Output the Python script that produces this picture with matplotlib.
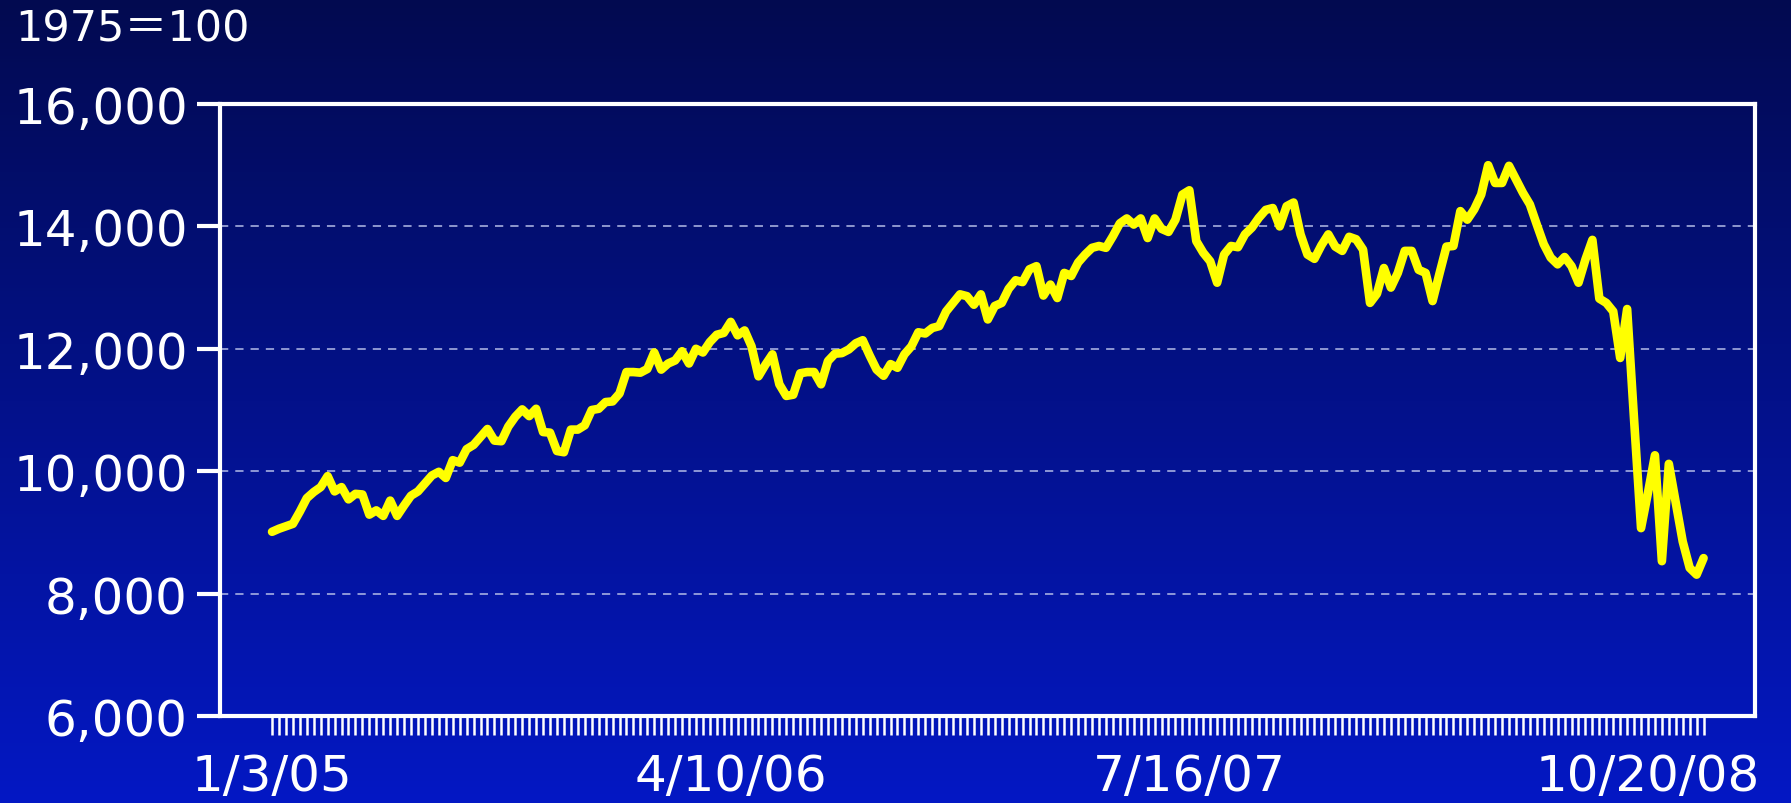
import numpy as np
import pandas as pd
import matplotlib
matplotlib.use("Agg")
import matplotlib.pyplot as plt
from matplotlib.colors import LinearSegmentedColormap
from matplotlib.ticker import FuncFormatter

### Data (weekly index, 1975=100) ###
start_date = "2005-01-03"
values = [
    9010, 9060, 9100, 9140, 9340, 9560, 9660, 9740, 9920, 9670,
    9740, 9540, 9630, 9620, 9290, 9360, 9270, 9520, 9270, 9440,
    9600, 9670, 9800, 9930, 9990, 9890, 10180, 10140, 10360, 10430,
    10560, 10690, 10500, 10490, 10730, 10890, 11010, 10900, 11020, 10640,
    10630, 10330, 10310, 10680, 10680, 10750, 11000, 11020, 11130, 11140,
    11270, 11620, 11620, 11610, 11670, 11940, 11660, 11760, 11810, 11960,
    11760, 12000, 11940, 12110, 12230, 12260, 12440, 12220, 12300, 12040,
    11550, 11740, 11910, 11420, 11230, 11250, 11600, 11620, 11620, 11420,
    11800, 11920, 11930, 11990, 12090, 12140, 11890, 11660, 11560, 11750,
    11690, 11910, 12040, 12270, 12250, 12340, 12370, 12610, 12750, 12890,
    12860, 12720, 12890, 12480, 12700, 12750, 12980, 13120, 13090, 13300,
    13350, 12870, 13050, 12830, 13240, 13190, 13410, 13540, 13650, 13680,
    13650, 13840, 14050, 14130, 14030, 14130, 13810, 14130, 13960, 13910,
    14110, 14520, 14590, 13760, 13570, 13430, 13080, 13540, 13680, 13660,
    13870, 13980, 14140, 14270, 14300, 14000, 14330, 14390, 13870, 13540,
    13470, 13690, 13870, 13670, 13600, 13830, 13790, 13620, 12750, 12900,
    13320, 13000, 13240, 13600, 13600, 13290, 13240, 12780, 13230, 13670,
    13680, 14250, 14110, 14280, 14520, 15000, 14710, 14710, 14990, 14770,
    14550, 14360, 14030, 13710, 13490, 13380, 13500, 13350, 13080, 13460,
    13780, 12820, 12750, 12610, 11850, 12650, 10840, 9070, 9650, 10260,
    8530, 10120, 9480, 8850, 8420, 8310, 8580,
]
label_dates = ["2005-01-03", "2006-04-10", "2007-07-16", "2008-10-20"]
tick_labels = ["1/3/05", "4/10/06", "7/16/07", "10/20/08"]
y_ticks = [6000, 8000, 10000, 12000, 14000, 16000]
unit_text = "1975\uff1d100"

dates = pd.date_range(start_date, periods=len(values), freq="7D")
x = np.arange(len(values))
label_pos = dates.get_indexer(pd.to_datetime(label_dates))

### Figure ###
fig = plt.figure(figsize=(17.91, 8.04), dpi=100)

# background gradient (dark navy at the top -> bright blue at the bottom)
bg = fig.add_axes([0, 0, 1, 1], zorder=-10)
cmap = LinearSegmentedColormap.from_list("bg", ["#0418c4", "#03118a", "#020a50"])
bg.imshow(np.linspace(0, 1, 256).reshape(-1, 1), aspect="auto", cmap=cmap,
          origin="lower", extent=[0, 1, 0, 1])
bg.axis("off")

ax = fig.add_axes([0.1228, 0.1082, 0.8571, 0.7612])
ax.set_facecolor("none")

ax.plot(x, values, color="#ffff00", linewidth=6.2, solid_joinstyle="round",
        solid_capstyle="round", zorder=3)

ax.set_xlim(-7.5, 213.4)
ax.set_ylim(6000, 16000)

# grid
for v in y_ticks[1:-1]:
    ax.axhline(v, color="#b4bce8", linewidth=1.1, dashes=(5.4, 4.6), zorder=1)

for s in ax.spines.values():
    s.set_color("white")
    s.set_linewidth(3)

ax.set_yticks(y_ticks)
ax.yaxis.set_major_formatter(FuncFormatter(lambda v, p: f"{int(v):,}"))
ax.tick_params(axis="y", colors="white", labelsize=36, length=16.5, width=3, pad=6.5)

ax.set_xticks(label_pos)
ax.set_xticklabels(tick_labels)
ax.set_xticks([i for i in x if i not in label_pos], minor=True)
ax.tick_params(axis="x", which="both", colors="white", length=13.7, width=1.8,
               direction="out")
ax.tick_params(axis="x", which="major", labelsize=36, pad=12)

fig.text(15 / 1791, 1 - 9 / 804, unit_text, color="white", fontsize=31,
         ha="left", va="top", family=["DejaVu Sans", "Noto Sans CJK JP"])

fig.savefig("out.png", dpi=100)
